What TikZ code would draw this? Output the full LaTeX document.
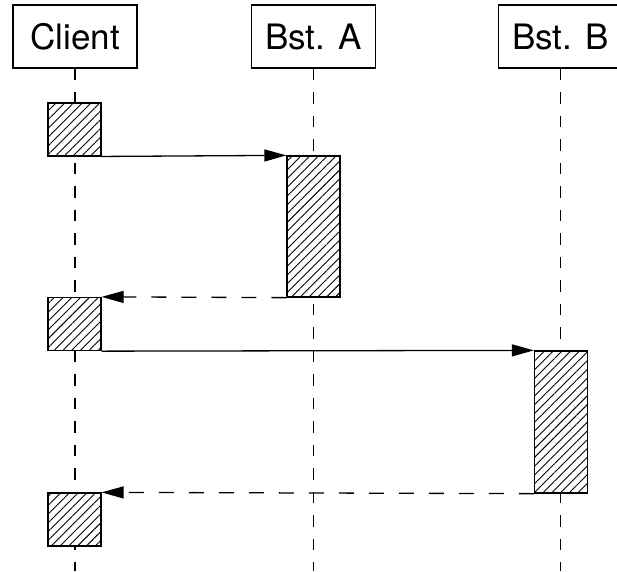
\documentclass[tikz,border=0pt]{standalone}
\usepackage{fontspec}
\setmainfont{TeX Gyre Heros}
\usetikzlibrary{arrows.meta,patterns.meta}

\tikzset{
  header/.style={draw, line width=1.3pt, minimum width=124pt, minimum height=63pt,
    inner sep=0pt, text height=25pt, text depth=0pt,
    font=\fontsize{35}{40}\selectfont},
  lifeline/.style={line width=1.3pt, dash pattern=on 11.5pt off 12pt},
  act/.style={draw, line width=1.3pt, minimum width=53pt, inner sep=0pt,
    preaction={fill=white},
    pattern={Lines[angle=45, distance=6.2pt, line width=0.9pt]}},
  call/.style={line width=1.3pt, -{Triangle[length=22pt, width=12pt]}},
  reply/.style={call, dash pattern=on 15pt off 15pt},
}

\begin{document}
\begin{tikzpicture}[x=1pt, y=-1pt]
  \useasboundingbox (0,0) rectangle (617,571);

  % participants
  \node[header] (client) at (75,36.5) {Client};
  \node[header] (bsta) at (313.5,36.5) {Bst. A};
  \node[header] (bstb) at (560.5,36.5) {Bst. B};

  % lifeline ends
  \coordinate (clientend) at (75,571);
  \coordinate (bstaend) at (313.5,571);
  \coordinate (bstbend) at (560.5,571);

  \draw[lifeline] (client.south) -- (clientend);
  \draw[lifeline] (bsta.south) -- (bstaend);
  \draw[lifeline] (bstb.south) -- (bstbend);

  % activations
  \node[act, minimum height=53pt] (c1) at (74.5,129.5) {};
  \node[act, minimum height=141pt] (a1) at (313.5,226.5) {};
  \node[act, minimum height=53pt] (c2) at (74.5,324) {};
  \node[act, minimum height=142pt] (b1) at (561,422) {};
  \node[act, minimum height=53pt] (c3) at (74.5,519.5) {};

  % messages
  \draw[call] (c1.south east) -- (a1.north west);
  \draw[reply] (a1.south west) -- (c2.north east);
  \draw[call] (c2.south east) -- (b1.north west);
  \draw[reply] (b1.south west) -- (c3.north east);
\end{tikzpicture}
\end{document}
